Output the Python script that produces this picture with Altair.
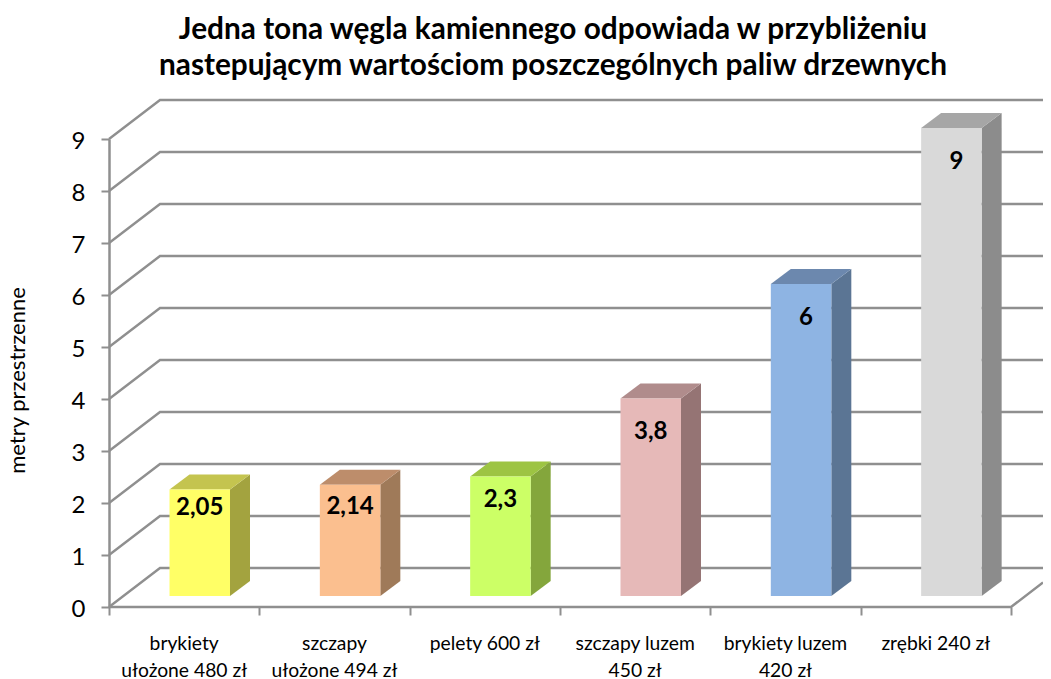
import altair as alt
import pandas as pd

TITLE = ["Jedna tona węgla kamiennego odpowiada w przybliżeniu",
         "nastepującym wartościom poszczególnych paliw drzewnych"]
AXIS_TITLE = "metry przestrzenne"
CATEGORIES = ["brykiety\nułożone 480 zł", "szczapy\nułożone 494 zł", "pelety 600 zł",
              "szczapy luzem\n450 zł", "brykiety luzem\n420 zł", "zrębki 240 zł"]
VALUES = [2.05, 2.14, 2.3, 3.8, 6, 9]
VALUE_LABELS = ["2,05", "2,14", "2,3", "3,8", "6", "9"]
FRONT = ["#FFFF66", "#FBBF8F", "#CCFF66", "#E6B9B8", "#8EB4E3", "#D9D9D9"]
TOP = ["#C4C44F", "#BD8D6B", "#9DC443", "#B08C8C", "#6C88AE", "#A6A6A6"]
SIDE = ["#A3A33F", "#9F7A59", "#84A63C", "#957474", "#5B7594", "#8C8C8C"]

FONT = "Lato"
GRID = "#8F8F8F"
PX_X = 150.33   # px per category
PX_Y = 52.0     # px per value unit
PLOT_W = 934
XMAX = PLOT_W / PX_X
WALL_DX, WALL_DY = 51 / PX_X, 39 / PX_Y
BAR_L, BAR_W = 60.5 / PX_X, 60.5 / PX_X
BAR_BASE = 11 / PX_Y
DEPTH_X, DEPTH_Y = 20 / PX_X, 15 / PX_Y


def label_drop(v):
    return 18.5 if v < 2.1 else 22.5 if v < 2.2 else 24 if v < 3 else 34


def label_shift(v):
    return 5 if v >= 6 else 0


grid_rows, fronts, sides, tops, labels, cats = [], [], [], [], [], []
for v in range(10):
    for order, (x, y) in enumerate([(0, v), (WALL_DX, v + WALL_DY), (XMAX, v + WALL_DY)]):
        grid_rows.append(dict(g=f"w{v}", o=order, x=x, y=y))
floor_end = XMAX - 6
for order, (x, y) in enumerate([(0, 0), (6, 0), (XMAX, floor_end * WALL_DY / WALL_DX)]):
    grid_rows.append(dict(g="floor", o=order, x=x, y=y))

for i, (c, v, lab, f, t, s) in enumerate(zip(CATEGORIES, VALUES, VALUE_LABELS, FRONT, TOP, SIDE)):
    left, right = i + BAR_L, i + BAR_L + BAR_W
    top = BAR_BASE + v
    fronts.append(dict(x=left, x2=right, y=BAR_BASE, y2=top, color=f))
    sides.append(dict(g=i, color=s, x=right, y=BAR_BASE, y2=top))
    sides.append(dict(g=i, color=s, x=right + DEPTH_X, y=BAR_BASE + DEPTH_Y, y2=top + DEPTH_Y))
    for x, y2 in [(left, top), (left + DEPTH_X, top + DEPTH_Y), (right, top + DEPTH_Y)]:
        tops.append(dict(g=i, color=t, x=x, y=top, y2=y2))
    tops.append(dict(g=i, color=t, x=right + DEPTH_X, y=top + DEPTH_Y, y2=top + DEPTH_Y))
    labels.append(dict(x=(left + right) / 2 + label_shift(v) / PX_X, y=top - label_drop(v) / PX_Y, t=lab))
    cats.append(dict(x=i + 0.5, y=-28 / PX_Y, t=c))

x_scale = alt.Scale(domain=[0, XMAX], nice=False, zero=False)
y_scale = alt.Scale(domain=[0, 9], nice=False)
X = alt.X("x:Q", scale=x_scale, title=None,
          axis=alt.Axis(values=list(range(7)), labels=False, domain=False, grid=False,
                        ticks=True, tickSize=8, tickColor=GRID, tickWidth=2))
Y = alt.Y("y:Q", scale=y_scale, title=AXIS_TITLE,
          axis=alt.Axis(values=list(range(10)), grid=False, domainColor=GRID, domainWidth=2.5,
                        tickColor=GRID, tickWidth=2, tickSize=8, labelFont=FONT, labelFontSize=24,
                        labelColor="#000000", labelPadding=16, labelOffset=2, titleFont=FONT, titleFontSize=22,
                        titleFontWeight="normal", titleColor="#000000", titleX=-80, titleY=241))

grid = alt.Chart(pd.DataFrame(grid_rows)).mark_line(color=GRID, strokeWidth=2.4).encode(
    x=X, y=Y, detail="g:N", order="o:Q")
front = alt.Chart(pd.DataFrame(fronts)).mark_rect().encode(
    x=alt.X("x:Q", scale=x_scale), x2="x2:Q", y=alt.Y("y:Q", scale=y_scale), y2="y2:Q",
    color=alt.Color("color:N", scale=None))
side = alt.Chart(pd.DataFrame(sides)).mark_area().encode(
    x=alt.X("x:Q", scale=x_scale), y=alt.Y("y:Q", scale=y_scale), y2="y2:Q",
    detail="g:N", color=alt.Color("color:N", scale=None))
topf = alt.Chart(pd.DataFrame(tops)).mark_area().encode(
    x=alt.X("x:Q", scale=x_scale), y=alt.Y("y:Q", scale=y_scale), y2="y2:Q",
    detail="g:N", color=alt.Color("color:N", scale=None))
val_text = alt.Chart(pd.DataFrame(labels)).mark_text(
    font=FONT, fontSize=24, fontWeight="bold", color="#000000", baseline="middle").encode(
    x=alt.X("x:Q", scale=x_scale), y=alt.Y("y:Q", scale=y_scale), text="t:N")
cat_text = alt.Chart(pd.DataFrame(cats)).mark_text(
    font=FONT, fontSize=19.3, color="#000000", baseline="top", lineBreak="\n", lineHeight=27).encode(
    x=alt.X("x:Q", scale=x_scale), y=alt.Y("y:Q", scale=y_scale), text="t:N")

chart = alt.layer(grid, side, topf, front, val_text, cat_text).properties(
    width=PLOT_W, height=468,
    padding={"left": 101, "top": 131, "right": 0, "bottom": 72},
    autosize=alt.AutoSizeParams(type="none"),
    title=alt.TitleParams(text=TITLE, font=FONT, fontSize=29.8, fontWeight="bold", color="#000000",
                          anchor="middle", lineHeight=36, dx=-23, dy=22, offset=36),
).configure_view(stroke=None)

chart.save("out.html", embed_options={"renderer": "svg", "actions": False})
